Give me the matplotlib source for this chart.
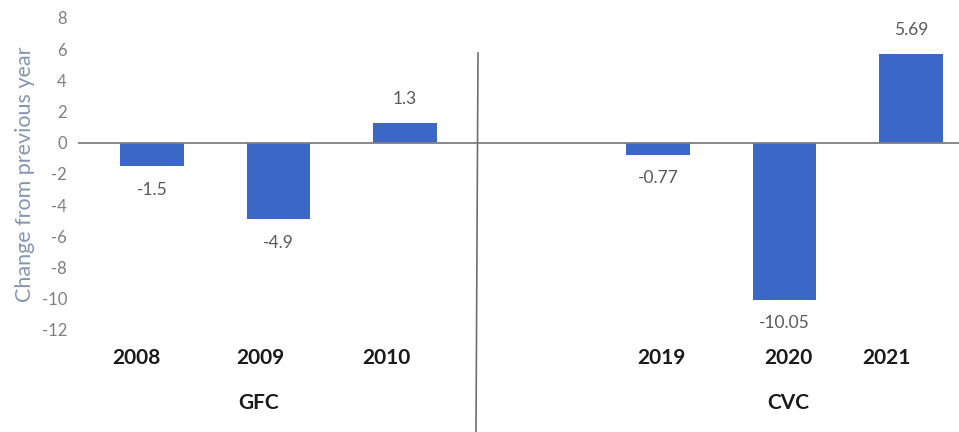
import matplotlib
matplotlib.use("Agg")
import matplotlib.pyplot as plt
from matplotlib.lines import Line2D

plt.rcParams['font.family'] = ['Lato', 'DejaVu Sans']

# Data
years = ["2008", "2009", "2010", "2019", "2020", "2021"]
values = [-1.5, -4.9, 1.3, -0.77, -10.05, 5.69]
value_labels = ["-1.5", "-4.9", "1.3", "-0.77", "-10.05", "5.69"]
groups = ["GFC", "CVC"]
yticks = [8, 6, 4, 2, 0, -2, -4, -6, -8, -10, -12]

# Slot positions: one empty slot separates the two episodes
slots = [0, 1, 2, 4, 5, 6]
year_label_x = [-0.12, 0.86, 1.85, 4.03, 5.03, 5.81]
group_label_x = [0.84, 5.03]

W, H = 959, 432
fig = plt.figure(figsize=(W / 100, H / 100), dpi=100)
left_px, right_px = 78, 959
top_px, bot_px = 18, 330
ax = fig.add_axes([left_px / W, 1 - bot_px / H, (right_px - left_px) / W, (bot_px - top_px) / H])

ax.bar(slots, values, width=0.5, color="#3b68c6", edgecolor="none", zorder=2)
ax.axhline(0, color="#7f7f7f", lw=1.3, zorder=3)

ax.set_xlim(-0.585, 6.38)
ax.set_ylim(-12, 8)
ax.set_yticks(yticks)
ax.set_yticklabels([str(t) for t in yticks], color="#7f7f7f", fontsize=12)
ax.tick_params(axis="y", length=0, pad=8)
ax.set_xticks([])
for s in ax.spines.values():
    s.set_visible(False)

ax.set_ylabel("Change from previous year", color="#8496b0", fontsize=15.5, labelpad=5)

# Value labels
for x, v, lab in zip(slots, values, value_labels):
    off = 17 if v > 0 else -17
    ax.annotate(lab, (x, v), xytext=(0, off), textcoords="offset points",
                ha="center", va="center", fontsize=12.5, color="#595959")

# Year and group labels below the plot
for x, y in zip(year_label_x, years):
    ax.text(x, -13.8, y, ha="center", va="center", fontsize=15,
            fontweight="bold", color="#1a1a1a")
for x, g in zip(group_label_x, groups):
    ax.text(x, -16.7, g, ha="center", va="center", fontsize=15,
            fontweight="bold", color="#1a1a1a")

# Divider between the two episodes
fig.add_artist(Line2D([478 / W, 476 / W], [1 - 53 / H, 0], color="#6f6f6f", lw=1.2))

fig.savefig("out.png", dpi=100, facecolor="white")
